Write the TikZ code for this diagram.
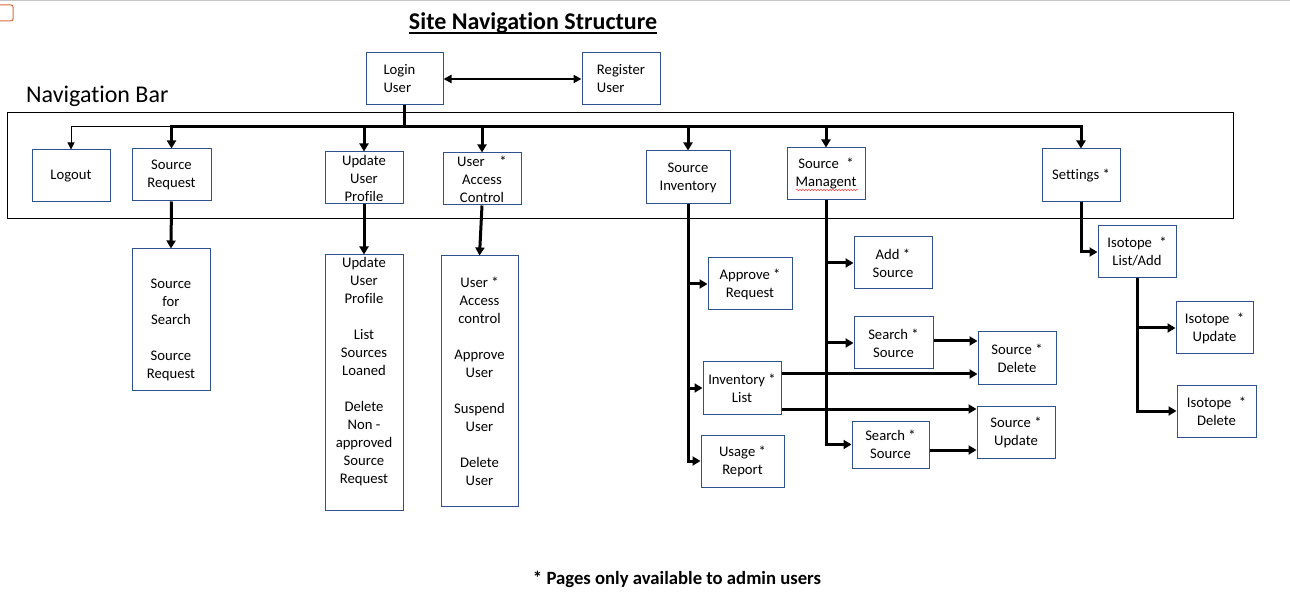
\documentclass[tikz,border=0pt]{standalone}
\usepackage{fontspec}
\setmainfont{Carlito}[Ligatures=NoCommon]
\usetikzlibrary{arrows.meta,fit,decorations.pathmorphing}
\definecolor{boxblue}{HTML}{2F528F}
\definecolor{orng}{HTML}{E0693A}
\begin{document}
\begin{tikzpicture}[x=1pt,y=-1pt,
  box/.style={draw=boxblue, line width=1pt, inner sep=0pt, align=center,
              minimum width=78pt, minimum height=52pt,
              font=\fontsize{14.67}{18}\selectfont},
  conn/.style={line width=3pt},
  tip/.style={-{Triangle[length=8pt,width=9pt]}},
  thinconn/.style={line width=1pt,-{Triangle[length=7pt,width=7pt]}},
  dbl/.style={line width=2pt,{Triangle[length=8pt,width=8pt]}-{Triangle[length=8pt,width=8pt]}}]
\useasboundingbox (0,0) rectangle (1290,601);
% page artefacts
\draw[gray!45, line width=1pt] (0,0.5) -- (1290,0.5);
\draw[orng, line width=1pt, rounded corners=2pt] (-4,5) rectangle (13,21);
% titles
\node[inner sep=0pt, anchor=base, font=\fontsize{24}{28}\bfseries\selectfont] (title) at (533,30) {Site Navigation Structure};
\draw[line width=1.8pt] ([yshift=-3pt]title.base west) -- ([yshift=-3pt]title.base east);
\node[inner sep=0pt, anchor=base west, font=\fontsize{24}{28}\selectfont] (navlabel) at (26,103) {Navigation Bar};
\node[inner sep=0pt, anchor=base, font=\fontsize{18.7}{22}\bfseries\selectfont] (footer) at (677,584) {* Pages only available to admin users};
% navigation bar frame
\node[draw=black, line width=1pt, inner sep=0pt, fit={(7,113) (1233,219)}] (navbar) {};
% boxes
\node[box, align=left, minimum width=77pt] (login) at (404.5,79) {Login\hspace*{10pt}\\User};
\node[box, align=left] (register) at (621,79) {Register\\User};
\node[box] (logout) at (71,176) {Logout};
\node[box, minimum width=79pt] (srcreq) at (171.5,175) {Source\\Request};
\node[box] (uup) at (364,178) {Update\\User\\Profile};
\node[box] (uac) at (482,179) {User\quad *\\Access\\Control};
\node[box, minimum width=84pt, minimum height=53pt] (srcinv) at (688,177.5) {Source\\Inventory};
\node[box] (srcman) at (826,174) {Source\enspace *\\Managent};
\node[box, minimum height=53pt] (settings) at (1081,175.5) {Settings *};
\node[box, minimum height=141pt] (sfs) at (171,319.5) {\strut\\Source\\for\\Search\\\strut\\Source\\Request};
\node[box, minimum height=255pt] (uupbig) at (364,382.5) {Update\\User\\Profile\\\strut\\List\\Sources\\Loaned\\\strut\\Delete\\Non -\\approved\\Source\\Request\\\strut};
\node[box, minimum width=77pt, minimum height=250pt] (uacbig) at (479.5,381) {User *\\Access\\control\\\strut\\Approve\\User\\\strut\\Suspend\\User\\\strut\\Delete\\User};
\node[box, minimum width=84pt] (approve) at (750,284) {Approve *\\Request};
\node[box] (invlist) at (742,388) {Inventory *\\List};
\node[box, minimum width=83pt] (usage) at (742.5,461) {Usage *\\Report};
\node[box] (add) at (893,263) {Add *\\Source};
\node[box, minimum width=79pt] (search1) at (893.5,343) {Search *\\Source};
\node[box, minimum width=77pt, minimum height=47pt] (search2) at (890.5,444.5) {Search *\\Source};
\node[box] (sdelete) at (1017,358) {Source *\\Delete};
\node[box] (supdate) at (1016,432) {Source *\\Update};
\node[box] (isolist) at (1137,252) {Isotope\enspace *\\List/Add};
\node[box, minimum width=77pt] (isoupd) at (1214.5,328) {Isotope\enspace *\\Update};
\node[box, minimum width=79pt] (isodel) at (1216.5,411) {Isotope\enspace *\\Delete};
% spell-check underline
\draw[red!75, line width=0.6pt, decorate, decoration={snake, amplitude=0.7pt, segment length=3pt}] (796,190) -- (858,190);
% login / register
\draw[dbl] (login) -- (register);
% bus
\coordinate (busy) at (0,127);
\draw[conn] (login.south) -- (login.south |- busy);
\draw[conn, line cap=rect] (srcreq.north |- busy) -- (settings.north |- busy);
\draw[thinconn] (srcreq.north |- busy) -| (logout.north);
\foreach \n in {srcreq,uup,uac,srcinv,srcman,settings}
  \draw[conn,tip] (\n.north |- busy) -- (\n.north);
% second level
\draw[conn,tip] (srcreq.south) -- (sfs.north);
\draw[conn,tip] (uup.south) -- (uupbig.north);
\draw[conn,tip] (uac.south) -- (uacbig.north);
% inventory
\draw[conn,tip] (srcinv.south) |- (usage.west);
\draw[conn,tip] (srcinv.south |- approve.west) -- (approve.west);
\draw[conn,tip] (srcinv.south |- invlist.west) -- (invlist.west);
% management
\draw[conn,tip] (srcman.south) |- (search2.west);
\draw[conn,tip] (srcman.south |- add.west) -- (add.west);
\draw[conn,tip] (srcman.south |- search1.west) -- (search1.west);
\coordinate (s1) at ([yshift=2pt]search1.east);
\draw[conn,tip] (s1) -- (s1 -| sdelete.west);
\coordinate (il1) at ([yshift=14pt]invlist.east);
\draw[conn,tip] (il1) -- (il1 -| sdelete.west);
\coordinate (il2) at ([yshift=-21pt]invlist.east);
\draw[conn,tip] (il2) -- (il2 -| supdate.west);
\coordinate (s2) at ([yshift=-5.5pt]search2.east);
\draw[conn,tip] (s2) -- (s2 -| supdate.west);
% settings
\draw[conn,tip] (settings.south) |- (isolist.west);
\draw[conn,tip] (isolist.south) |- (isodel.west);
\draw[conn,tip] (isolist.south |- isoupd.west) -- (isoupd.west);
\end{tikzpicture}
\end{document}
